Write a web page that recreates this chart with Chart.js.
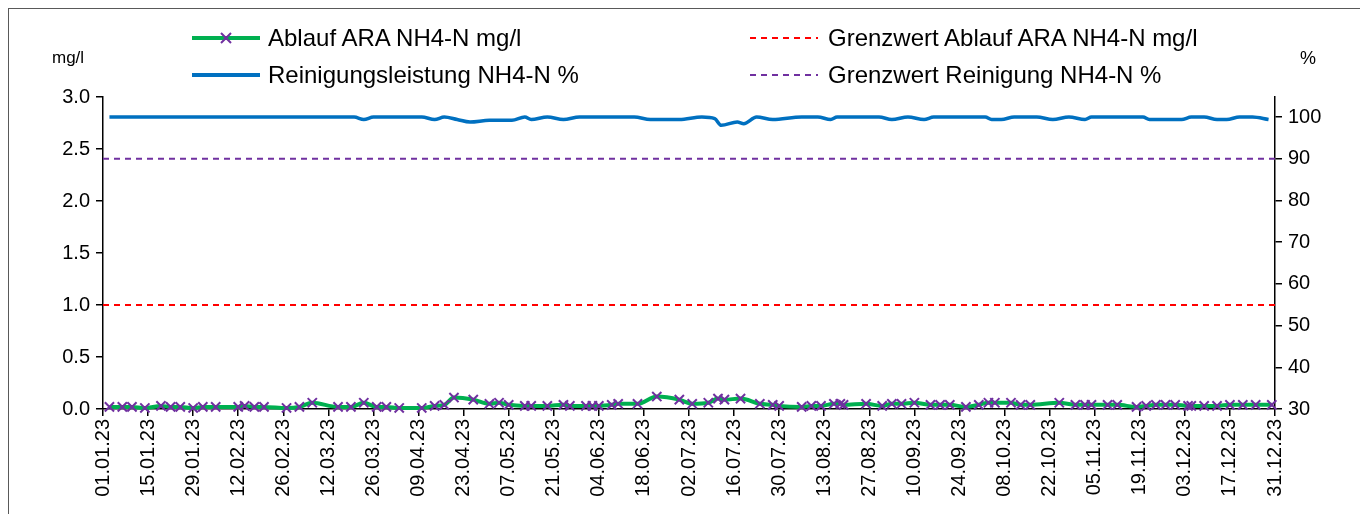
<!DOCTYPE html>
<html>
<head>
<meta charset="utf-8">
<script src="https://cdn.jsdelivr.net/npm/chart.js@4.4.1/dist/chart.umd.min.js"></script>
<style>
  body { margin: 0; background: #fff; font-family: "Liberation Sans", Arial, sans-serif; }
  #wrap { position: relative; width: 1360px; height: 514px; overflow: hidden; }
  #frame { position: absolute; left: 8px; top: 8px; width: 1400px; height: 600px; border: 1px solid #595959; box-sizing: border-box; }
  canvas { position: absolute; left: 0; top: 0; }
  .txt { position: absolute; font-size: 24px; color: #000; white-space: nowrap; line-height: 26px; }
  .smp { position: absolute; }
</style>
</head>
<body>
<div id="wrap">
  <div id="frame"></div>
  <canvas id="chart" width="1360" height="514"></canvas>

  <svg class="smp" style="left:192px;top:26px" width="70" height="24">
    <line x1="0" y1="12" x2="68" y2="12" stroke="#00b050" stroke-width="4"/>
    <path d="M29 7 L39 17 M39 7 L29 17" stroke="#7030a0" stroke-width="2"/>
  </svg>
  <div class="txt" style="left:268px;top:25px">Ablauf ARA NH4-N mg/l</div>

  <svg class="smp" style="left:750px;top:26px" width="70" height="24">
    <line x1="0" y1="12" x2="68" y2="12" stroke="#ff0000" stroke-width="2" stroke-dasharray="6,5"/>
  </svg>
  <div class="txt" style="left:828px;top:25px">Grenzwert Ablauf ARA NH4-N mg/l</div>

  <svg class="smp" style="left:192px;top:63px" width="70" height="24">
    <line x1="0" y1="12" x2="68" y2="12" stroke="#0070c0" stroke-width="4"/>
  </svg>
  <div class="txt" style="left:268px;top:62px">Reinigungsleistung NH4-N %</div>

  <svg class="smp" style="left:750px;top:63px" width="70" height="24">
    <line x1="0" y1="12" x2="68" y2="12" stroke="#7030a0" stroke-width="2" stroke-dasharray="6,5"/>
  </svg>
  <div class="txt" style="left:828px;top:62px">Grenzwert Reinigung NH4-N %</div>

  <div class="txt" style="left:52px;top:45px;font-size:17px">mg/l</div>
  <div class="txt" style="left:1300px;top:45px;font-size:18px">%</div>
</div>

<script>
// Ablauf ARA NH4-N (mg/l), Tag im Jahr 2023 (0 = 01.01.23)
const ablaufDays = [2, 6, 9, 13, 18, 21, 24, 28, 31, 35, 42, 44, 47, 50, 57, 61, 65, 73, 77, 81, 85, 88, 92, 99, 103, 106, 109, 115, 120,
    123, 126, 131, 133, 138, 143, 145, 150, 152, 154, 158, 160, 166, 172, 179, 183, 188, 191, 193, 198, 204, 208, 210, 217, 220, 223, 227, 229, 230, 237, 242,
    245, 248, 252, 257, 260, 263, 268, 272, 275, 277, 282, 285, 288, 297, 302, 305, 307, 312, 315, 321, 324, 327, 330, 333, 337, 338, 342, 346, 350, 354, 358, 363];
const ablaufValues = [0.02, 0.02, 0.02, 0.01, 0.03, 0.02, 0.02, 0.01, 0.02, 0.02, 0.02, 0.03, 0.02, 0.02, 0.01, 0.02, 0.06, 0.02, 0.02, 0.06, 0.02, 0.02, 0.01, 0.01, 0.03, 0.04, 0.11, 0.09, 0.05,
    0.06, 0.04, 0.03, 0.03, 0.03, 0.04, 0.03, 0.03, 0.03, 0.03, 0.04, 0.05, 0.05, 0.12, 0.09, 0.05, 0.06, 0.10, 0.09, 0.10, 0.05, 0.04, 0.03, 0.02, 0.03, 0.03, 0.05, 0.05, 0.04, 0.05, 0.03,
    0.05, 0.05, 0.06, 0.04, 0.04, 0.04, 0.02, 0.04, 0.06, 0.06, 0.06, 0.04, 0.04, 0.06, 0.04, 0.04, 0.04, 0.04, 0.04, 0.02, 0.03, 0.04, 0.04, 0.04, 0.03, 0.03, 0.03, 0.03, 0.04, 0.04, 0.04, 0.04];

// Reinigungsleistung NH4-N (%)
const reinigungDays = [2, 78, 81, 84, 99, 103, 106, 110, 114, 120, 127, 131, 133, 138, 143, 148, 165, 170, 179, 186,
    190, 192, 197, 199, 203, 208, 217, 222, 226, 228, 241, 245, 250, 255, 258, 274, 276, 279, 283, 290,
    295, 300, 305, 307, 323, 325, 335, 338, 342, 346, 349, 353, 357, 362];
const reinigungValues = [100, 100, 99.4, 100, 100, 99.4, 100, 99.4, 98.8, 99.2, 99.2, 100, 99.4, 100, 99.4, 100, 100, 99.4, 99.4, 100,
    99.6, 98, 98.8, 98.4, 100, 99.4, 100, 100, 99.4, 100, 100, 99.4, 100, 99.4, 100, 100, 99.4, 99.4, 100, 100,
    99.4, 100, 99.4, 100, 100, 99.4, 99.4, 100, 100, 99.4, 99.4, 100, 100, 99.4];

const grenzwertAblauf = 1.0;
const grenzwertReinigung = 90;
const yearDays = [0, 364];

// min, max, step
const leftTicks = [0, 3.0, 0.5];
const rightTicks = [30, 104.8, 10];

function dayLabel(d) {
    const dt = new Date(2023, 0, 1 + d);
    const dd = String(dt.getDate()).padStart(2, '0');
    const mm = String(dt.getMonth() + 1).padStart(2, '0');
    return dd + '.' + mm + '.' + String(dt.getFullYear()).slice(2);
}

const tickFont = { family: "'Liberation Sans', Arial, sans-serif", size: 20 };

new Chart(document.getElementById('chart').getContext('2d'), {
    type: 'line',
    data: {
        datasets: [
            {
                label: 'Grenzwert Ablauf ARA NH4-N mg/l',
                data: yearDays.map(d => ({ x: d, y: grenzwertAblauf })),
                yAxisID: 'y',
                borderColor: '#ff0000',
                borderWidth: 2,
                borderDash: [6, 5],
                pointRadius: 0
            },
            {
                label: 'Grenzwert Reinigung NH4-N %',
                data: yearDays.map(d => ({ x: d, y: grenzwertReinigung })),
                yAxisID: 'y2',
                borderColor: '#7030a0',
                borderWidth: 2,
                borderDash: [6, 5],
                pointRadius: 0
            },
            {
                label: 'Reinigungsleistung NH4-N %',
                data: reinigungDays.map((d, i) => ({ x: d, y: reinigungValues[i] })),
                yAxisID: 'y2',
                borderColor: '#0070c0',
                borderWidth: 3.5,
                pointRadius: 0,
                cubicInterpolationMode: 'monotone'
            },
            {
                label: 'Ablauf ARA NH4-N mg/l',
                data: ablaufDays.map((d, i) => ({ x: d, y: ablaufValues[i] })),
                yAxisID: 'y',
                borderColor: '#00b050',
                borderWidth: 4,
                pointStyle: 'crossRot',
                pointRadius: 6.5,
                pointBorderColor: '#7030a0',
                pointBorderWidth: 2,
                cubicInterpolationMode: 'monotone',
                clip: false
            }
        ]
    },
    options: {
        responsive: false,
        animation: false,
        layout: { padding: { top: 97, left: 0, right: 0, bottom: 0 } },
        plugins: { legend: { display: false }, tooltip: { enabled: false } },
        scales: {
            x: {
                type: 'linear',
                min: yearDays[0],
                max: yearDays[1],
                afterFit: s => { s.height = 105; },
                ticks: {
                    stepSize: 14,
                    autoSkip: false,
                    minRotation: 90,
                    maxRotation: 90,
                    color: '#000',
                    font: tickFont,
                    padding: 3,
                    callback: v => dayLabel(v)
                },
                grid: { drawOnChartArea: false, tickLength: 7, color: '#000', lineWidth: 1.5 },
                border: { color: '#000', width: 1.5 }
            },
            y: {
                position: 'left',
                min: leftTicks[0],
                max: leftTicks[1],
                afterFit: s => { s.width = 103; },
                ticks: {
                    stepSize: leftTicks[2],
                    color: '#000',
                    font: tickFont,
                    padding: 6,
                    callback: v => v.toFixed(1)
                },
                grid: { drawOnChartArea: false, tickLength: 7, color: '#000', lineWidth: 1.5 },
                border: { color: '#000', width: 1.5 }
            },
            y2: {
                position: 'right',
                min: rightTicks[0],
                max: rightTicks[1],
                afterFit: s => { s.width = 85; },
                ticks: {
                    stepSize: rightTicks[2],
                    includeBounds: false,
                    color: '#000',
                    font: tickFont,
                    padding: 6
                },
                grid: { drawOnChartArea: false, tickLength: 7, color: '#000', lineWidth: 1.5 },
                border: { color: '#000', width: 1.5 }
            }
        }
    }
});
</script>
</body>
</html>
